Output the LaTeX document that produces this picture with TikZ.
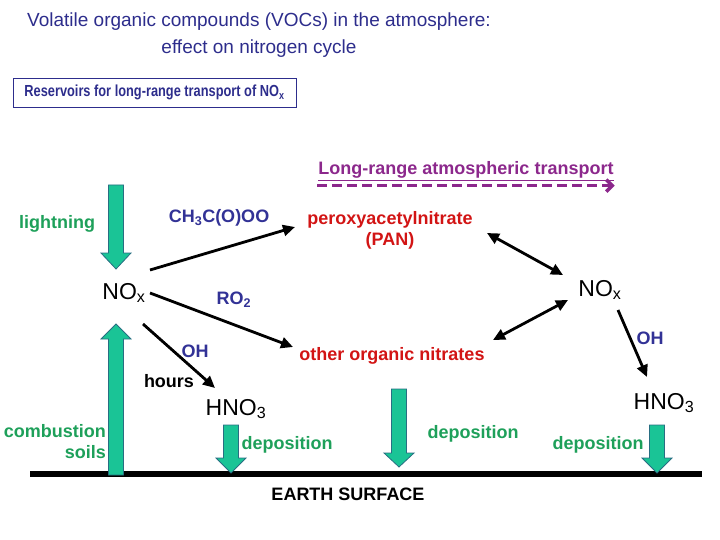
\documentclass[tikz,border=0pt]{standalone}
\usepackage{fontspec}
\setmainfont{Liberation Sans}
\newfontfamily\narrowfont[FakeStretch=0.8]{Liberation Sans}
\usetikzlibrary{arrows.meta}
\definecolor{titleblue}{RGB}{45,45,140}
\definecolor{chemblue}{RGB}{50,50,150}
\definecolor{nitred}{RGB}{210,20,20}
\definecolor{srcgreen}{RGB}{30,160,90}
\definecolor{arrowfill}{RGB}{26,196,150}
\definecolor{arrowedge}{RGB}{40,110,130}
\definecolor{transpurple}{RGB}{140,40,140}
\begin{document}
\begin{tikzpicture}[x=1pt, y=-1pt, >={Triangle[length=12pt,width=11pt]},
  lbl/.style={inner sep=1pt, font=\bfseries\fontsize{18}{21}\selectfont},
  big/.style={inner sep=1pt, font=\fontsize{23}{27}\selectfont},
  conn/.style={->, line width=2.8pt},
  twoway/.style={<->, line width=2.8pt},
  blockarr/.style={fill=arrowfill, draw=arrowedge, line width=0.8pt}]
\useasboundingbox (0,0) rectangle (720,540);
% title and box
\node[titleblue, align=center, font=\fontsize{19}{27}\selectfont] (title) at (259,35)
  {Volatile organic compounds (VOCs) in the atmosphere:\\effect on nitrogen cycle};
\node[draw=titleblue, line width=0.8pt, minimum width=283, minimum height=29, text=titleblue,
  font=\narrowfont\bfseries\fontsize{16}{19}\selectfont] (reservoirs) at (154.5,92.5)
  {Reservoirs for long-range transport of NO\textsubscript{x}};
% transport
\node[lbl, transpurple] (transport) at (466,171) {\underline{Long-range atmospheric transport}};
\draw[transpurple, line width=3.5pt, dash pattern=on 10pt off 5pt, -{Straight Barb[length=6pt,width=12pt]}]
  ([yshift=-4pt]transport.south west) -- ([yshift=-4pt]transport.south east);
% species
\node[lbl, srcgreen] (lightning) at (57,224) {lightning};
\node[lbl, srcgreen, align=right, anchor=east] (combustion) at (107,442) {combustion\\soils};
\node[big] (noxL) at (124,293) {NO\textsubscript{x}};
\node[big] (noxR) at (600,290) {NO\textsubscript{x}};
\node[lbl, chemblue] (acyl) at (219,218) {CH\textsubscript{3}C(O)OO};
\node[lbl, nitred, align=center] (pan) at (390,230) {peroxyacetylnitrate\\(PAN)};
\node[lbl, chemblue] (ro2) at (234,300) {RO\textsubscript{2}};
\node[lbl, nitred] (other) at (392,356) {other organic nitrates};
\node[lbl, chemblue] (ohL) at (195,351) {OH};
\node[lbl] (hours) at (169,381) {hours};
\node[big] (hnoL) at (236,409) {HNO\textsubscript{3}};
\node[lbl, chemblue] (ohR) at (650,338) {OH};
\node[big] (hnoR) at (664,403) {HNO\textsubscript{3}};
\node[lbl, srcgreen] (depL) at (287,445) {deposition};
\node[lbl, srcgreen] (depM) at (473,434) {deposition};
\node[lbl, srcgreen] (depR) at (598,445) {deposition};
\node[lbl] (earth) at (348,494) {EARTH SURFACE};
% reactions
\draw[conn] ([shift={(26,-23)}]noxL.center) -- ([shift={(-95,-3)}]pan.center);
\draw[twoway] ([shift={(97,3)}]pan.center) -- ([shift={(-37,-15)}]noxR.center);
\draw[conn] ([shift={(26,0)}]noxL.center) -- ([shift={(-99,-9)}]other.center);
\draw[twoway] ([shift={(101,-16)}]other.center) -- ([shift={(-32,10)}]noxR.center);
\draw[conn] ([shift={(19,31)}]noxL.center) -- ([shift={(-21,-21)}]hnoL.center);
\draw[conn] ([shift={(18,20)}]noxR.center) -- ([shift={(-17,-26)}]hnoR.center);
% ground
\draw[line width=6pt] (30,474) -- (702,474);
% block arrows: x / base / neck / tip
\foreach \x/\ys/\yn/\ye in {116/185/253/269, 116/475/339/324, 231/425/458/473, 399/389/453/467, 657/425/458/473}
  \draw[blockarr] (\x-7.5,\ys) -- (\x+7.5,\ys) -- (\x+7.5,\yn) -- (\x+15,\yn) -- (\x,\ye)
    -- (\x-15,\yn) -- (\x-7.5,\yn) -- cycle;
\end{tikzpicture}
\end{document}
